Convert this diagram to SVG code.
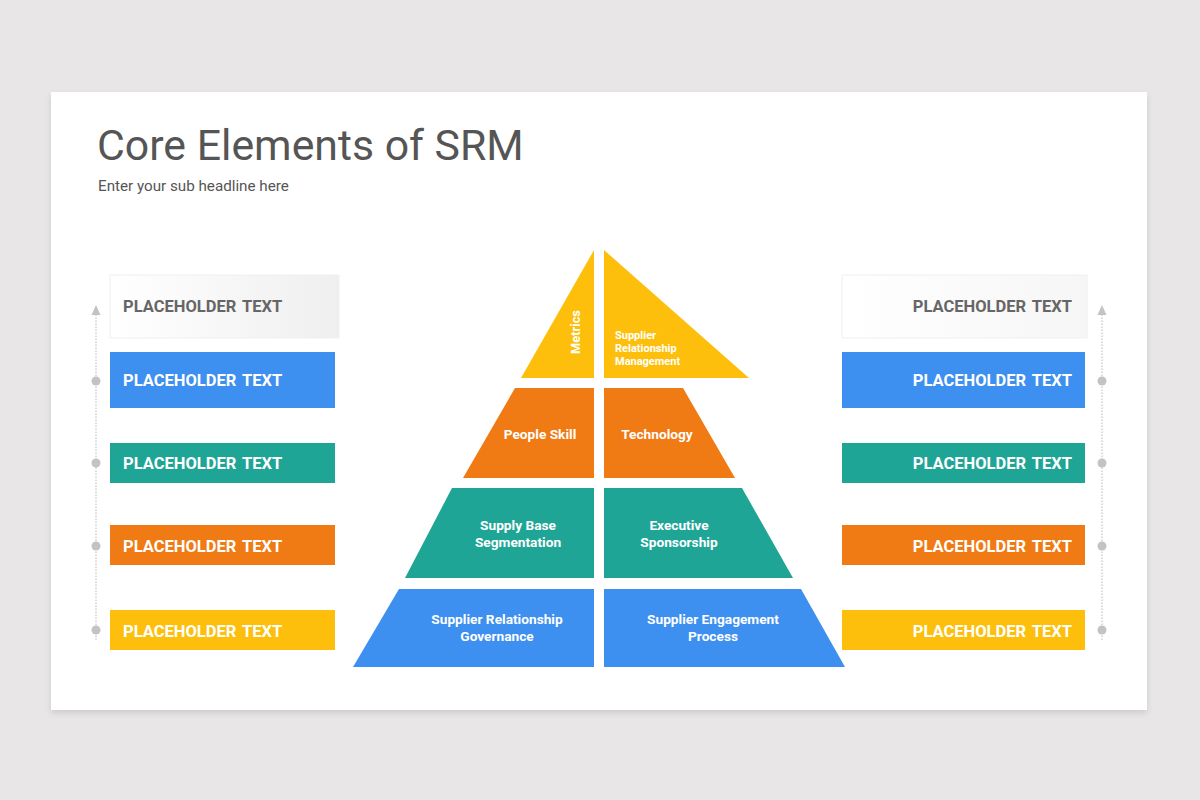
<svg xmlns="http://www.w3.org/2000/svg" width="1200" height="800" viewBox="0 0 1200 800">
<defs>
<linearGradient id="gray" x1="0" y1="0" x2="1" y2="0">
<stop offset="0" stop-color="#ffffff"/>
<stop offset="1" stop-color="#efefef"/>
</linearGradient>
<linearGradient id="grayR" x1="1" y1="0" x2="0" y2="0">
<stop offset="0" stop-color="#f6f6f6"/>
<stop offset="1" stop-color="#ffffff"/>
</linearGradient>
<filter id="sh" x="-5%" y="-5%" width="110%" height="115%">
<feDropShadow dx="0" dy="3" stdDeviation="3" flood-color="#000" flood-opacity="0.12"/>
</filter>
</defs>
<style>
.t{font-family:Roboto,"Liberation Sans",sans-serif}
.ph{font-family:Roboto,"Liberation Sans",sans-serif;font-weight:700;font-size:16.5px;fill:#fff;word-spacing:2px}
.pt{font-family:Roboto,"Liberation Sans",sans-serif;font-weight:700;font-size:13.7px;fill:#fff;text-anchor:middle}
.blue{fill:#3d8ff0}.teal{fill:#1fa596}.orange{fill:#f07a14}.yellow{fill:#fdbf0c}
.line{stroke:#cfcfcf;stroke-width:1.5;stroke-dasharray:1.5 1.5;fill:none}
.dot{fill:#c3c3c3}
.head{fill:#c3c3c3}
</style>
<rect width="1200" height="800" fill="#e8e6e7"/>
<rect x="51" y="92" width="1096" height="618" fill="#ffffff" filter="url(#sh)"/>
<text class="t" x="97" y="160" font-size="42.8" fill="#555555">Core Elements of SRM</text>
<text class="t" x="98" y="191" font-size="15.2" fill="#555555">Enter your sub headline here</text>

<g id="connectors">
<line class="line" x1="96" y1="640" x2="96" y2="313"/>
<polygon class="head" points="91.5,315 96,305 100.5,315"/>
<line class="line" x1="1102" y1="640" x2="1102" y2="313"/>
<polygon class="head" points="1097.5,315 1102,305 1106.5,315"/>
<circle class="dot" cx="96" cy="381" r="4.5"/>
<circle class="dot" cx="96" cy="463" r="4.5"/>
<circle class="dot" cx="96" cy="546" r="4.5"/>
<circle class="dot" cx="96" cy="630" r="4.5"/>
<circle class="dot" cx="1102" cy="381" r="4.5"/>
<circle class="dot" cx="1102" cy="463" r="4.5"/>
<circle class="dot" cx="1102" cy="546" r="4.5"/>
<circle class="dot" cx="1102" cy="630" r="4.5"/>
</g>

<g id="left-1"><rect x="110" y="275" width="229" height="63" fill="url(#gray)" stroke="#f0f0f0"/><text class="ph" x="123" y="312" style="fill:#666666">PLACEHOLDER TEXT</text></g>
<g id="left-2"><rect class="blue" x="110" y="352" width="225" height="56"/><text class="ph" x="123" y="386">PLACEHOLDER TEXT</text></g>
<g id="left-3"><rect class="teal" x="110" y="443" width="225" height="40"/><text class="ph" x="123" y="469">PLACEHOLDER TEXT</text></g>
<g id="left-4"><rect class="orange" x="110" y="525" width="225" height="40"/><text class="ph" x="123" y="552">PLACEHOLDER TEXT</text></g>
<g id="left-5"><rect class="yellow" x="110" y="610" width="225" height="40"/><text class="ph" x="123" y="637">PLACEHOLDER TEXT</text></g>

<g id="right-1"><rect x="842" y="275" width="245" height="63" fill="url(#grayR)" stroke="#f0f0f0"/><text class="ph" x="1072" y="312" text-anchor="end" style="fill:#666666">PLACEHOLDER TEXT</text></g>
<g id="right-2"><rect class="blue" x="842" y="352" width="243" height="56"/><text class="ph" x="1072" y="386" text-anchor="end">PLACEHOLDER TEXT</text></g>
<g id="right-3"><rect class="teal" x="842" y="443" width="243" height="40"/><text class="ph" x="1072" y="469" text-anchor="end">PLACEHOLDER TEXT</text></g>
<g id="right-4"><rect class="orange" x="842" y="525" width="243" height="40"/><text class="ph" x="1072" y="552" text-anchor="end">PLACEHOLDER TEXT</text></g>
<g id="right-5"><rect class="yellow" x="842" y="610" width="243" height="40"/><text class="ph" x="1072" y="637" text-anchor="end">PLACEHOLDER TEXT</text></g>

<g id="metrics"><polygon class="yellow" points="594,250 594,378 521,378"/><text class="pt" transform="translate(580,332) rotate(-90)" font-size="12.8" style="font-size:12.8px">Metrics</text></g>
<g id="srm"><polygon class="yellow" points="604,250 749,378 604,378"/><text class="t" font-size="11" font-weight="700" fill="#ffffff"><tspan x="615" y="339">Supplier</tspan><tspan x="615" y="352">Relationship</tspan><tspan x="615" y="365">Management</tspan></text></g>
<g id="people-skill"><polygon class="orange" points="515,388 594,388 594,478 463,478"/><text class="pt" x="540" y="439">People Skill</text></g>
<g id="technology"><polygon class="orange" points="604,388 683,388 735,478 604,478"/><text class="pt" x="657" y="439">Technology</text></g>
<g id="segmentation"><polygon class="teal" points="452,488 594,488 594,578 405,578"/><text class="pt"><tspan x="518" y="530">Supply Base</tspan><tspan x="518" y="547">Segmentation</tspan></text></g>
<g id="sponsorship"><polygon class="teal" points="604,488 742,488 793,578 604,578"/><text class="pt"><tspan x="679" y="530">Executive</tspan><tspan x="679" y="547">Sponsorship</tspan></text></g>
<g id="governance"><polygon class="blue" points="399,589 594,589 594,667 353,667"/><text class="pt"><tspan x="497" y="624">Supplier Relationship</tspan><tspan x="497" y="641">Governance</tspan></text></g>
<g id="engagement"><polygon class="blue" points="604,589 801,589 845,667 604,667"/><text class="pt"><tspan x="713" y="624">Supplier Engagement</tspan><tspan x="713" y="641">Process</tspan></text></g>
</svg>
